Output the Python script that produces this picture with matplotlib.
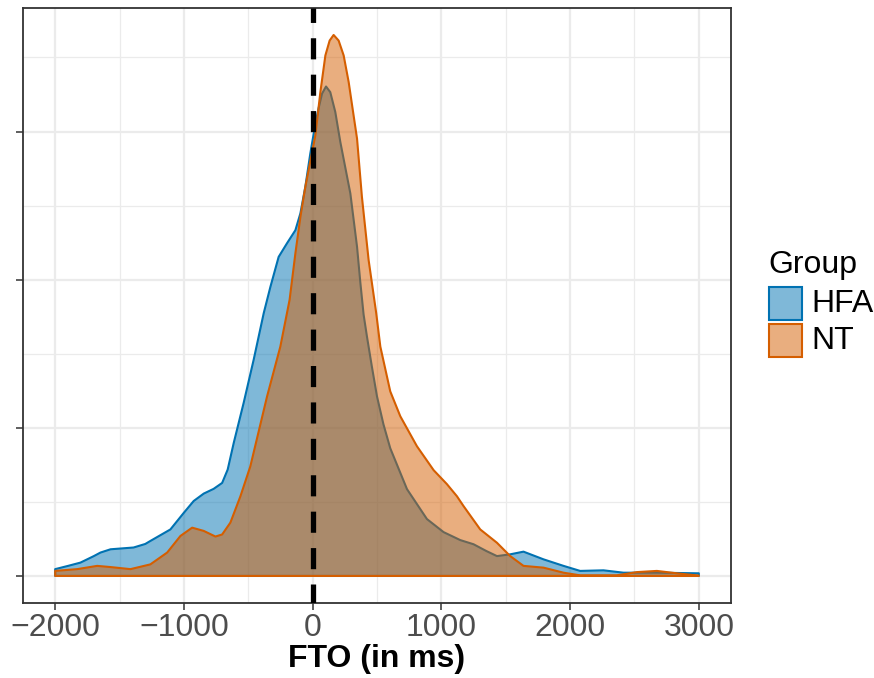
import matplotlib
matplotlib.use("Agg")
import matplotlib.pyplot as plt
from matplotlib.patches import Rectangle
import numpy as np

plt.rcParams['font.family'] = ['Liberation Sans', 'DejaVu Sans']

# FTO in ms, density in units of 1e-3 per ms
hfa_x = [-2000, -1900, -1804, -1700, -1648, -1570, -1391, -1300, -1261, -1105, -1001,
         -924, -846, -769, -703, -660, -613, -536, -458, -380, -328, -264, -199, -134,
         -95, -57, -18, 21, 47, 73, 104, 137, 176, 215, 293, 345, 370, 396, 422, 460,
         500, 550, 603, 733, 888, 1017, 1147, 1250, 1350, 1432, 1535, 1638, 1794, 1949,
         2078, 2259, 2415, 2674, 2984, 3000]
hfa_y = [0.023, 0.034, 0.045, 0.067, 0.079, 0.090, 0.096, 0.108, 0.118, 0.157, 0.213,
         0.253, 0.278, 0.294, 0.314, 0.359, 0.449, 0.584, 0.730, 0.887, 0.976, 1.077,
         1.123, 1.167, 1.224, 1.313, 1.426, 1.525, 1.580, 1.628, 1.652, 1.633, 1.566,
         1.465, 1.291, 1.111, 0.993, 0.882, 0.808, 0.707, 0.606, 0.512, 0.431, 0.293,
         0.192, 0.148, 0.121, 0.107, 0.084, 0.067, 0.073, 0.082, 0.056, 0.034, 0.017,
         0.019, 0.011, 0.011, 0.009, 0.009]

nt_x = [-2000, -1829, -1674, -1570, -1415, -1261, -1130, -1027, -936, -846, -755, -703,
        -639, -561, -484, -354, -251, -179, -134, -95, -57, 21, 60, 99, 132, 163, 202,
        241, 280, 318, 345, 383, 435, 494, 526, 603, 681, 810, 940, 1043, 1121, 1172,
        1302, 1432, 1535, 1638, 1794, 1949, 2078, 2363, 2519, 2674, 2829, 3000]
nt_y = [0.017, 0.023, 0.034, 0.030, 0.023, 0.039, 0.079, 0.135, 0.163, 0.152, 0.133,
        0.140, 0.180, 0.269, 0.370, 0.606, 0.774, 0.932, 1.089, 1.212, 1.313, 1.487,
        1.633, 1.757, 1.807, 1.826, 1.807, 1.757, 1.667, 1.555, 1.476, 1.279, 1.066,
        0.887, 0.774, 0.623, 0.539, 0.438, 0.357, 0.310, 0.269, 0.236, 0.157, 0.112,
        0.067, 0.034, 0.028, 0.011, 0.002, 0.002, 0.013, 0.017, 0.009, 0.001]

groups = ['HFA', 'NT']
colors = ['#0072B2', '#D55E00']
x_ticks = [-2000, -1000, 0, 1000, 2000, 3000]

fig = plt.figure(figsize=(8.74, 6.78), dpi=100)
ax = fig.add_axes([23 / 874, 1 - 603 / 678, 708 / 874, 595 / 678])

for xs, ys, c in [(hfa_x, hfa_y, colors[0]), (nt_x, nt_y, colors[1])]:
    xs = np.array(xs)
    ys = np.array(ys)
    px = np.concatenate([xs, xs[::-1]])
    py = np.concatenate([ys, np.zeros(len(xs))])
    ax.fill(px, py, facecolor=c, alpha=0.5, edgecolor='none', zorder=2)
    ax.fill(px, py, facecolor='none', edgecolor=c, lw=1.5, zorder=2, joinstyle='round')

# dashed line at 0
ax.axvline(0, color='black', lw=3.8, linestyle=(0.4, (4.0, 2.9)), zorder=3)

ax.set_xlim(-2250, 3250)
ax.set_ylim(-0.0913, 1.917)
ax.set_xticks(x_ticks)
ax.set_xticklabels([str(t).replace('-', '\u2212') for t in x_ticks])
ax.set_xticks([-1500, -500, 500, 1500, 2500], minor=True)
ax.set_yticks([0, 0.5, 1.0, 1.5])
ax.set_yticklabels([])
ax.set_yticks([0.25, 0.75, 1.25, 1.75], minor=True)
ax.grid(True, which='major', color='#ebebeb', lw=1.6, zorder=0)
ax.grid(True, which='minor', color='#ebebeb', lw=0.9, zorder=0)
ax.set_axisbelow(True)
ax.tick_params(which='minor', length=0)
ax.tick_params(which='major', length=5, width=1.1, color='#333333',
               labelsize=23, labelcolor='#4D4D4D', pad=2)
for s in ax.spines.values():
    s.set_color('#333333')
    s.set_linewidth(1.3)

ax.set_xlabel('FTO (in ms)', fontsize=23, fontweight='bold', labelpad=1)

# legend
fig.text(768 / 874, 1 - 265 / 678, 'Group', fontsize=23, va='center', ha='left')
for i, (g, c) in enumerate(zip(groups, colors)):
    y0 = 287 + i * 37
    fig.add_artist(Rectangle((769 / 874, 1 - (y0 + 33) / 678), 33 / 874, 33 / 678,
                             transform=fig.transFigure, facecolor=c, alpha=0.5,
                             edgecolor='none'))
    fig.add_artist(Rectangle((769 / 874, 1 - (y0 + 33) / 678), 33 / 874, 33 / 678,
                             transform=fig.transFigure, facecolor='none',
                             edgecolor=c, lw=1.5))
    fig.text(811 / 874, 1 - (y0 + 17) / 678, g, fontsize=23, va='center', ha='left')

fig.savefig('out.png', dpi=100)
